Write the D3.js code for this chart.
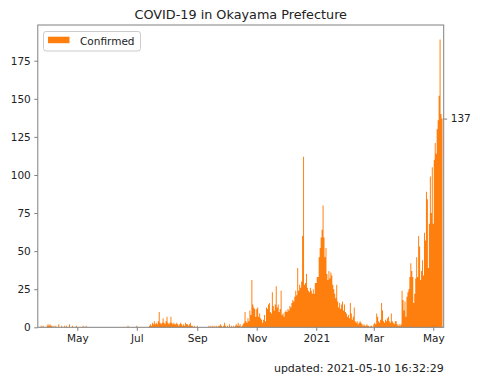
<!DOCTYPE html>
<html><head><meta charset="utf-8">
<script src="https://cdn.jsdelivr.net/npm/d3@7"></script>
<style>body{margin:0;background:#fff}svg{display:block}text{font-family:"DejaVu Sans",sans-serif;fill:#222}</style>
</head><body>
<svg id="c" width="480" height="381"></svg>
<script>
const startDate = "2020-03-22";
const mar2020 = [0,0,0,1,0,1,0,0,0,1];
const apr2020 = [2,1,2,1,1,0,1,0,1,0,0,2,0,0,1,0,0,1,0,1,0,0,2,0,0,1,0,0,0,1];
const may2020 = [0,0,0,0,0,0,1,0,0,1,0,0,0,0,0,0,0,0,0,0,0,0,0,0,0,0,0,0,0,0,0];
const jun2020 = [0,0,0,0,0,0,0,0,0,0,0,0,0,0,0,0,0,0,0,0,0,1,0,0,0,0,0,0,0,0];
const jul2020 = [1,0,0,0,0,0,0,0,0,0,0,0,0,1,2,1,3,2,4,2,3,2,4,10,3,2,3,6,3,2,4];
const aug2020 = [7,3,2,3,7,3,2,3,2,2,3,2,1,2,3,2,1,2,1,3,2,2,1,2,3,1,1,0,1,0,0];
const sep2020 = [1,0,0,0,0,0,0,0,0,0,0,0,1,0,1,0,1,0,1,0,1,0,1,1,2,1,0,1,3,1];
const oct2020 = [0,1,0,2,0,1,0,1,0,1,2,1,3,1,2,0,1,2,3,10,4,3,6,4,11,8,31,15,13,12,7];
const nov2020 = [12,13,7,9,6,5,3,5,8,4,13,12,15,16,10,9,23,14,11,15,27,13,15,10,12,24,8,9,7,10];
const dec2020 = [11,10,12,11,14,13,16,18,17,20,24,21,39,24,28,26,30,60,112,28,29,35,26,24,23,26,24,22,25,22,29];
const jan2021 = [29,33,33,46,52,59,64,80,59,46,52,35,31,37,32,36,34,28,25,22,19,28,17,13,16,12,15,17,11,15,10];
const feb2021 = [9,7,8,6,16,9,5,7,13,4,3,4,2,3,4,3,2,1,2,1,1,2,1,1,0,1,1,0];
const mar2021 = [2,3,2,9,7,4,3,5,16,11,4,3,5,4,6,7,4,3,9,4,3,2,4,4,2,1,2,1,2,24,18];
const apr2021 = [11,17,7,20,23,25,33,42,37,33,16,22,32,46,33,60,53,31,37,44,34,62,57,89,84,39,68,99,75,105];
const may2021 = [68,110,121,114,130,136,152,189,140,137];

const yTicks = [0,25,50,75,100,125,150,175];
const xTickDates = ["2020-05-01","2020-07-01","2020-09-01","2020-11-01","2021-01-01","2021-03-01","2021-05-01"];
const xTickLabels = ["May","Jul","Sep","Nov","2021","Mar","May"];
const seriesName = "Confirmed";
const titleText = "COVID-19 in Okayama Prefecture";
const updatedText = "updated: 2021-05-10 16:32:29";

const daily = [].concat(mar2020,apr2020,may2020,jun2020,jul2020,aug2020,sep2020,oct2020,nov2020,dec2020,jan2021,feb2021,mar2021,apr2021,may2021);
const parse = d3.utcParse("%Y-%m-%d");
const t0 = parse(startDate);
const DAY = 864e5;
const data = daily.map((v,i)=>({date: d3.utcDay.offset(t0,i), v}));
const last = data[data.length-1];

const L = 37.8, R = 443.7, T = 25, B = 327.3;
const x = d3.scaleUtc()
  .domain([new Date(+t0 - 0.5*DAY), new Date(+last.date + 1.7*DAY)])
  .range([L, R]);
const y = d3.scaleLinear().domain([0, d3.max(daily)*1.05]).range([B, T]);
const orange = "#ff7f0e";
const grey = "#808080";

const svg = d3.select("#c");
svg.append("text").attr("x", (L+R)/2).attr("y", 18.5).attr("text-anchor","middle")
  .attr("font-size", 12.8).text(titleText);

// daily bars drawn as one stepped shape (one step per day), avoiding seams between adjacent bars
const stepPts = data.concat([{date: new Date(+last.date + DAY), v: last.v}]);
const area = d3.area()
  .x(d => x(new Date(+d.date - 0.5*DAY)))
  .y0(y(0)).y1(d => y(d.v))
  .curve(d3.curveStepAfter);
svg.append("path").datum(stepPts).attr("d", area).attr("fill", orange);

svg.append("rect").attr("x", L).attr("y", T).attr("width", R-L).attr("height", B-T)
  .attr("fill","none").attr("stroke", grey).attr("stroke-width", 1);

function style(g){
  g.select(".domain").remove();
  g.selectAll("line").attr("stroke", grey);
  g.selectAll("text").attr("font-size", 10.5).attr("font-family", null).attr("fill", "#222");
}
const xAxis = d3.axisBottom(x).tickValues(xTickDates.map(parse))
  .tickFormat((d,i)=>xTickLabels[i]).tickSize(3.5).tickPadding(3.5);
svg.append("g").attr("transform", `translate(0,${B})`).call(xAxis).call(style);

const yAxis = d3.axisLeft(y).tickValues(yTicks).tickSize(3.5).tickPadding(3.5);
svg.append("g").attr("transform", `translate(${L},0)`).call(yAxis).call(style);

const yAxisR = d3.axisRight(y).tickValues([last.v]).tickSize(3.5).tickPadding(3.5);
svg.append("g").attr("transform", `translate(${R},0)`).call(yAxisR).call(style);

const lg = svg.append("g");
lg.append("rect").attr("x", 43.5).attr("y", 31.5).attr("width", 97).attr("height", 19.5)
  .attr("rx", 2.5).attr("fill", "#fff").attr("fill-opacity", 0.8).attr("stroke", "#cccccc");
lg.append("rect").attr("x", 48).attr("y", 36.7).attr("width", 21.5).attr("height", 6.5).attr("fill", orange);
lg.append("text").attr("x", 80).attr("y", 45).attr("font-size", 10.5).text(seriesName);

svg.append("text").attr("x", R).attr("y", 371.5).attr("text-anchor","end")
  .attr("font-size", 11).text(updatedText);
</script>
</body></html>
